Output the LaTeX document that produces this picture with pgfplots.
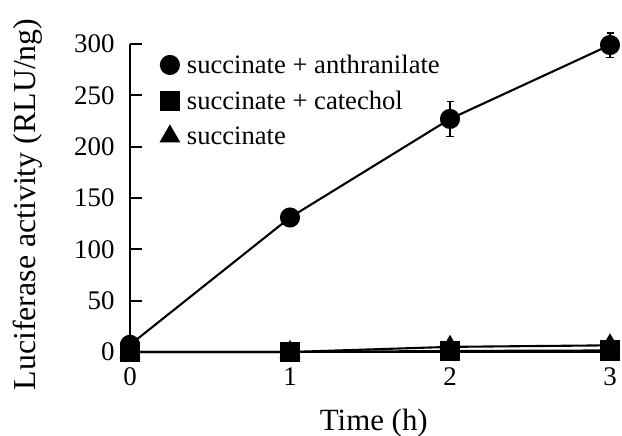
\documentclass[border=0pt]{standalone}
\usepackage{fontspec}
\setmainfont{Liberation Serif}
\usepackage{pgfplots}
\pgfplotsset{compat=1.18}
\begin{document}
\begin{tikzpicture}
\begin{axis}[
  scale only axis, width=480bp, height=308bp,
  xmin=0, xmax=3, ymin=0, ymax=300,
  clip=false,
  axis x line=bottom, axis y line=left,
  axis line style={-, line width=2bp, black},
  xtick={0,1,2,3}, ytick={0,50,100,150,200,250,300},
  tick align=inside,
  major tick length=12bp,
  xtick style={draw=none},
  ytick style={line width=2bp, black},
  /pgf/number format/assume math mode=true,
  tick label style={font=\fontsize{27}{30}\selectfont},
  yticklabel style={xshift=-12bp},
  xticklabel style={yshift=-12bp},
  xlabel={Time (h)},
  ylabel={Luciferase activity (RLU/ng)},
  label style={font=\fontsize{31}{36}\selectfont},
  xlabel style={at={(axis description cs:0.508,0)}, anchor=base, yshift=-78bp},
  ylabel style={at={(axis description cs:-0.2125,0.479)}, anchor=center, font=\fontsize{32}{36}\selectfont},
  legend style={draw=none, fill=none, at={(axis description cs:0.064,0.978)}, anchor=north west,
    font=\fontsize{26.7}{30}\selectfont, row sep=8bp, inner sep=0pt,
    nodes={inner sep=4bp}, column sep=4bp},
  legend cell align=left,
  legend image code/.code={\draw[#1,only marks] plot coordinates {(0bp,0bp)};},
]
\addplot[black, line width=2.1bp, mark=*, mark size=9bp, mark options={fill=black, solid}, error bars/.cd, y dir=both, y explicit, error bar style={line width=1.6bp, black}, error mark options={rotate=90, mark size=3.5bp, line width=1.6bp, black}]
  table[x=t, y=v, y error=e] {
t v e
0 7 1
1 131 5
2 227 17
3 299 12
};
\addlegendentry{succinate + anthranilate}
\addplot[black, line width=2.1bp, mark=square*, mark size=9bp, mark options={fill=black, solid}]
  table[x=t, y=v] {
t v
0 0
1 0
2 1
3 1.5
};
\addlegendentry{succinate + catechol}
\addplot[black, line width=2.1bp, mark=triangle*, mark size=10bp, mark options={fill=black, solid}]
  table[x=t, y=v] {
t v
0 0
1 0
2 5
3 6.5
};
\addlegendentry{succinate}
\end{axis}
\pgfresetboundingbox
\path[use as bounding box] (-130bp,-84bp) rectangle (492bp,352bp);
\end{tikzpicture}
\end{document}
